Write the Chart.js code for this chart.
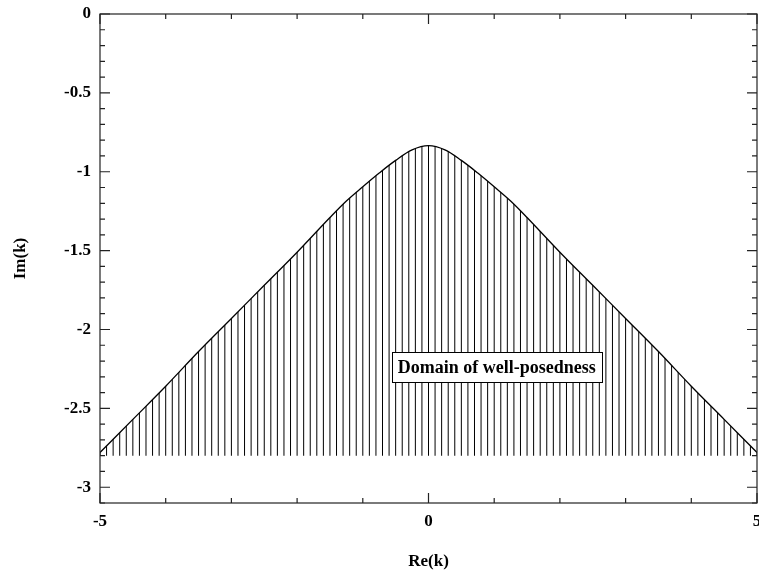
<!DOCTYPE html>
<html>
<head>
<meta charset="utf-8">
<script src="https://cdn.jsdelivr.net/npm/chart.js@4"></script>
<style>
html,body{margin:0;padding:0;background:#fff;}
#wrap{width:759px;height:575px;position:relative;}
</style>
</head>
<body>
<div id="wrap"><canvas id="c" width="759" height="575"></canvas></div>
<script>
// ---- data ----
const reK = [-5, -4.5, -4, -3.5, -3, -2.5, -2, -1.5, -1.25, -1, -0.75, -0.5, -0.25, 0,
             0.25, 0.5, 0.75, 1, 1.25, 1.5, 2, 2.5, 3, 3.5, 4, 4.5, 5];
const imK = [-2.78, -2.57, -2.36, -2.14, -1.93, -1.72, -1.51, -1.29, -1.185, -1.095, -1.008, -0.928, -0.861, -0.834,
             -0.861, -0.928, -1.008, -1.095, -1.185, -1.29, -1.51, -1.72, -1.93, -2.14, -2.36, -2.57, -2.78];
const hatchBase = -2.8;
const xTickValues = [-5, 0, 5];
const xTickLabels = ['-5', '0', '5'];
const yTickValues = [0, -0.5, -1, -1.5, -2, -2.5, -3];
const yTickLabels = ['0', '-0.5', '-1', '-1.5', '-2', '-2.5', '-3'];
const annotationText = 'Domain of well-posedness';
const annotationAt = {x: 1.04, y: -2.24};

const FONT = "'Liberation Serif', 'Times New Roman', serif";

const framePlugin = {
  id: 'frame',
  beforeDatasetsDraw(chart) {
    const {ctx, chartArea: a, scales: {x, y}} = chart;
    const line = chart.getDatasetMeta(0).dataset;
    ctx.save();
    ctx.beginPath();
    line.path(ctx);
    ctx.lineTo(x.getPixelForValue(reK[reK.length - 1]), y.getPixelForValue(hatchBase));
    ctx.lineTo(x.getPixelForValue(reK[0]), y.getPixelForValue(hatchBase));
    ctx.closePath();
    ctx.clip();
    ctx.strokeStyle = '#000';
    ctx.lineWidth = 1;
    ctx.beginPath();
    for (let i = 0; i <= 100; i++) {
      const v = -5 + i * 0.1;
      const px = x.getPixelForValue(v);
      ctx.moveTo(px, a.top);
      ctx.lineTo(px, a.bottom);
    }
    ctx.stroke();
    ctx.restore();
  },
  afterDatasetsDraw(chart) {
    const {ctx, chartArea: a, scales: {x, y}} = chart;
    ctx.save();
    ctx.strokeStyle = '#222';
    ctx.lineWidth = 1.2;
    ctx.strokeRect(a.left, a.top, a.right - a.left, a.bottom - a.top);
    ctx.beginPath();
    for (let i = -50; i <= 50; i += 10) {
      const v = i / 10;
      const px = x.getPixelForValue(v);
      const len = (i % 50 === 0) ? 10 : 5;
      ctx.moveTo(px, a.bottom); ctx.lineTo(px, a.bottom - len);
      ctx.moveTo(px, a.top); ctx.lineTo(px, a.top + len);
    }
    for (let i = 0; i >= -31; i--) {
      const v = i / 10;
      const py = y.getPixelForValue(v);
      const len = (i % 5 === 0) ? 10 : 5;
      ctx.moveTo(a.left, py); ctx.lineTo(a.left + len, py);
      ctx.moveTo(a.right, py); ctx.lineTo(a.right - len, py);
    }
    ctx.stroke();
    const cx = x.getPixelForValue(annotationAt.x);
    const cy = y.getPixelForValue(annotationAt.y);
    ctx.font = 'bold 18px ' + FONT;
    const w = Math.round(ctx.measureText(annotationText).width + 12);
    const h = 30;
    const bx = Math.round(cx - w / 2) + 0.5, by = Math.round(cy - h / 2) + 0.5;
    ctx.fillStyle = '#fff';
    ctx.fillRect(bx, by, w, h);
    ctx.strokeStyle = '#000';
    ctx.lineWidth = 1;
    ctx.strokeRect(bx, by, w, h);
    ctx.fillStyle = '#000';
    ctx.textAlign = 'center';
    ctx.textBaseline = 'middle';
    ctx.fillText(annotationText, cx, cy + 1);
    ctx.restore();
  }
};

new Chart(document.getElementById('c'), {
  type: 'line',
  data: {
    datasets: [{
      data: reK.map((v, i) => ({x: v, y: imK[i]})),
      borderColor: '#000',
      borderWidth: 1.3,
      pointRadius: 0,
      fill: false,
      tension: 0.35
    }]
  },
  options: {
    responsive: false,
    animation: false,
    layout: {padding: {left: 0, top: 14, right: 2, bottom: 0}},
    plugins: {legend: {display: false}, tooltip: {enabled: false}},
    scales: {
      x: {
        type: 'linear', min: -5, max: 5,
        grid: {display: false, drawTicks: false},
        border: {display: false},
        afterBuildTicks(s) { s.ticks = xTickValues.map(v => ({value: v})); },
        afterFit(s) { s.height = 72; s.paddingLeft = 0; s.paddingRight = 0; },
        ticks: {
          autoSkip: false, maxRotation: 0, padding: 8, color: '#000',
          font: {family: FONT, size: 17, weight: 'bold'},
          callback(v) { const i = xTickValues.indexOf(v); return i >= 0 ? xTickLabels[i] : ''; }
        },
        title: {display: true, text: 'Re(k)', color: '#000',
          font: {family: FONT, size: 17, weight: 'bold'}, padding: {top: 0, bottom: 3}}
      },
      y: {
        type: 'linear', min: -3.1, max: 0,
        grid: {display: false, drawTicks: false},
        border: {display: false},
        afterBuildTicks(s) { s.ticks = yTickValues.map(v => ({value: v})); },
        afterFit(s) { s.width = 100; s.paddingTop = 0; s.paddingBottom = 0; },
        ticks: {
          autoSkip: false, padding: 9, color: '#000',
          font: {family: FONT, size: 17, weight: 'bold'},
          callback(v) { const i = yTickValues.indexOf(v); return i >= 0 ? yTickLabels[i] : ''; }
        },
        title: {display: true, text: 'Im(k)', color: '#000',
          font: {family: FONT, size: 17, weight: 'bold'}, padding: {top: 10, bottom: 0}}
      }
    }
  },
  plugins: [framePlugin]
});
</script>
</body>
</html>
